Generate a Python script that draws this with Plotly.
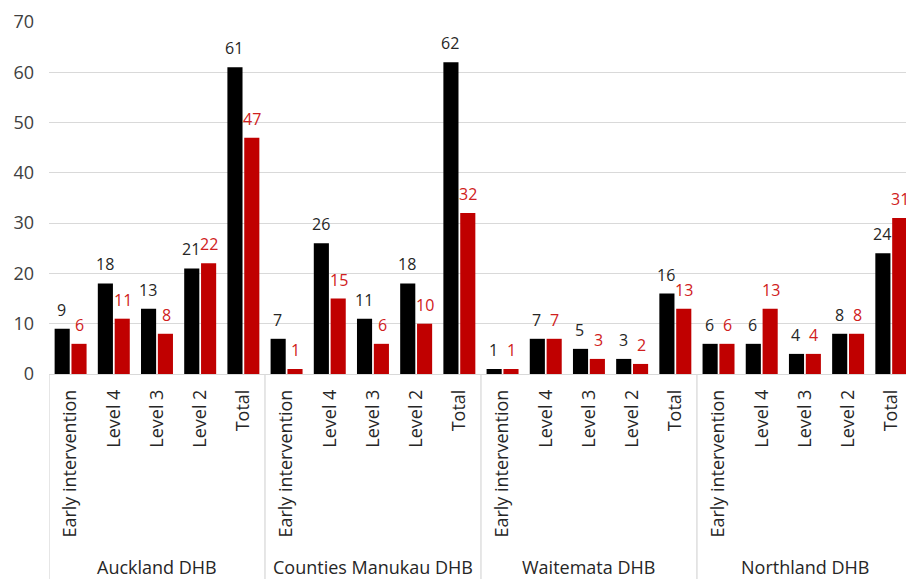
import plotly.graph_objects as go

groups = ["Auckland DHB", "Counties Manukau DHB", "Waitemata DHB", "Northland DHB"]
levels = ["Early intervention", "Level 4", "Level 3", "Level 2", "Total"]
series_black = [9, 18, 13, 21, 61, 7, 26, 11, 18, 62, 1, 7, 5, 3, 16, 6, 6, 4, 8, 24]
series_red = [6, 11, 8, 22, 47, 1, 15, 6, 10, 32, 1, 7, 3, 2, 13, 6, 13, 4, 8, 31]
y_ticks = [0, 10, 20, 30, 40, 50, 60, 70]

n = len(groups) * len(levels)
xs = list(range(n))
tick_text = [lv for g in groups for lv in levels]

FONT = "Open Sans"
BLACK = "#000000"
RED = "#C00000"
GRID = "#d9d9d9"
FS = 18
FS_LABEL = 16

fig = go.Figure()
fig.add_trace(go.Bar(x=xs, y=series_black, marker=dict(color=BLACK, line=dict(width=0)),
                     width=0.35, offset=-0.37, showlegend=False))
fig.add_trace(go.Bar(x=xs, y=series_red, marker=dict(color=RED, line=dict(width=0)),
                     width=0.35, offset=0.02, showlegend=False))

annotations = []
for i in xs:
    annotations.append(dict(x=i - 0.21, y=series_black[i], xref="x", yref="y", text=str(series_black[i]),
                            showarrow=False, yanchor="bottom", yshift=6,
                            font=dict(family=FONT, size=FS_LABEL, color="#262626")))
    annotations.append(dict(x=i + 0.21, y=series_red[i], xref="x", yref="y", text=str(series_red[i]),
                            showarrow=False, yanchor="bottom", yshift=6,
                            font=dict(family=FONT, size=FS_LABEL, color="#D02020")))

k = len(levels)
for gi, g in enumerate(groups):
    center = gi * k + (k - 1) / 2
    annotations.append(dict(x=center, y=0, xref="x", yref="y", text=g, showarrow=False,
                            yanchor="middle", yshift=-193,
                            font=dict(family=FONT, size=FS, color="#262626")))

shapes = []
for gi in range(len(groups)):
    xb = gi * k - 0.5
    shapes.append(dict(type="line", xref="x", yref="paper", x0=xb, x1=xb, y0=0, y1=-0.7,
                       line=dict(color=GRID, width=1.3)))

fig.update_layout(
    width=906, height=579,
    margin=dict(l=49, r=0, t=22, b=205),
    paper_bgcolor="white", plot_bgcolor="white",
    barmode="overlay",
    annotations=annotations,
    shapes=shapes,
    font=dict(family=FONT, size=FS, color="#404040"),
)
fig.update_xaxes(
    range=[-0.5, 19.34], tickvals=xs, ticktext=tick_text, tickangle=-90,
    showgrid=False, zeroline=False, showline=False, ticks="",
    tickfont=dict(family=FONT, size=FS, color="#262626"), ticklabelstandoff=11,
)
fig.update_yaxes(
    range=[0, 70], tickvals=y_ticks, showgrid=True, gridcolor=GRID, gridwidth=1,
    zeroline=True, zerolinecolor=GRID, zerolinewidth=1.3, showline=False, ticks="",
    tickfont=dict(family=FONT, size=FS, color="#404040"), ticklabelstandoff=14,
)

fig.write_html("out.html")
